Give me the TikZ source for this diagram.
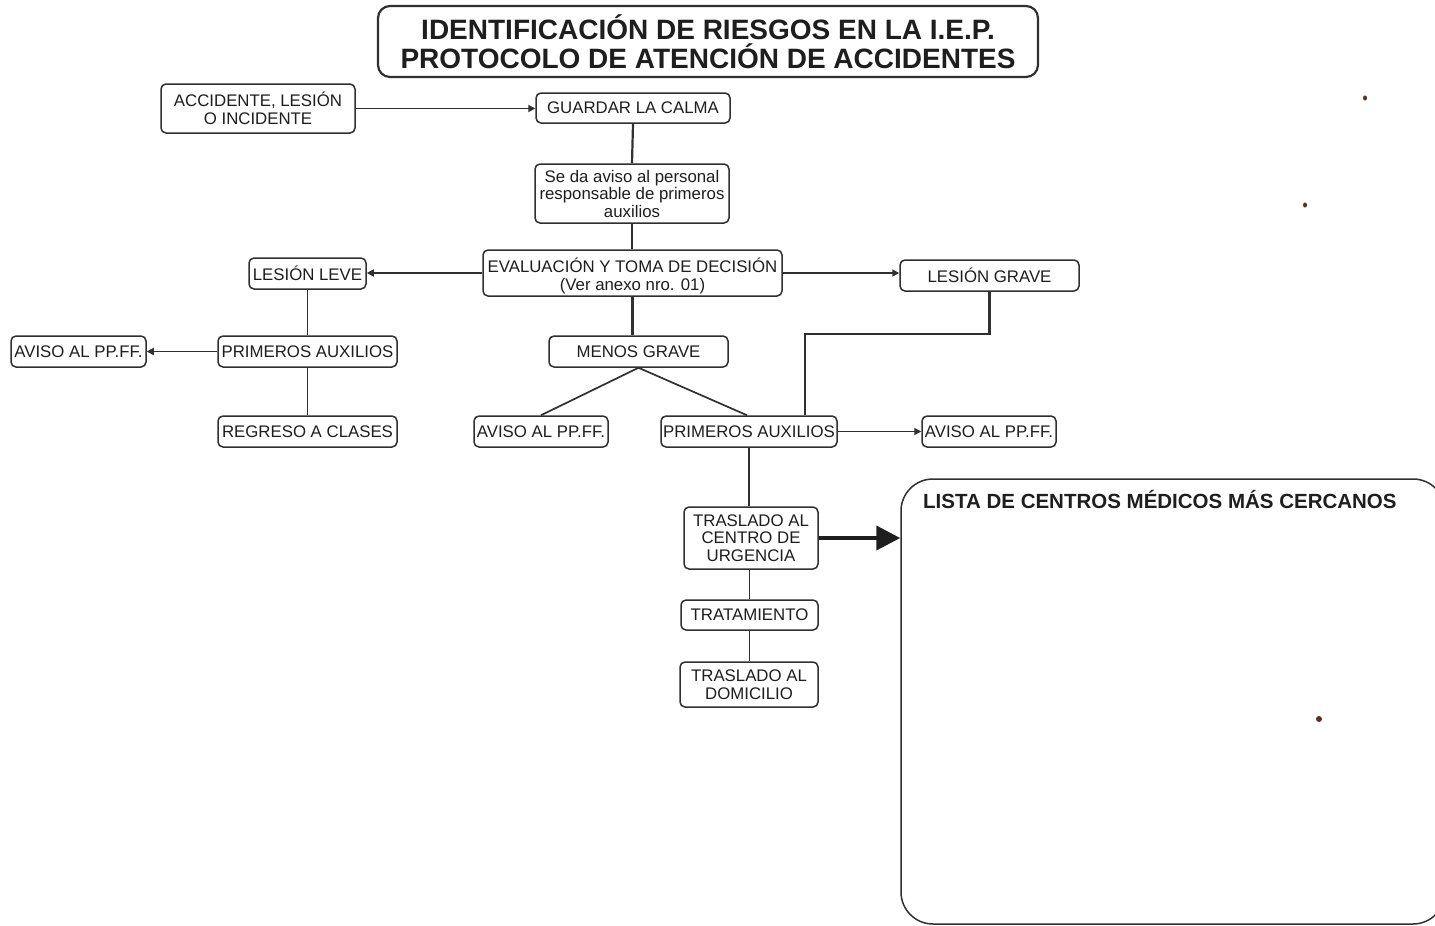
\documentclass[tikz,border=0pt]{standalone}
\usepackage{fontspec}
\setmainfont{Liberation Sans}
\usetikzlibrary{arrows.meta}
\definecolor{linec}{HTML}{303030}
\definecolor{txt}{HTML}{1E1E1E}
\definecolor{dotc}{HTML}{5A3222}
\begin{document}
\begin{tikzpicture}[x=1pt,y=-1pt,
  box/.style={draw=linec, line width=1.5pt, rounded corners=5pt, inner sep=0pt, align=center, text=txt, font=\fontsize{16.8}{17.5}\selectfont},
  conn/.style={draw=linec, line width=1.7pt},
  arr/.style={conn, -{Triangle[length=7pt,width=7pt]}},
  ]
\path[use as bounding box] (0,0) rectangle (1435,926);
\clip (0,0) rectangle (1435,926);
\fill[white] (0,0) rectangle (1435,926);

% title
\node[box, line width=2.2pt, rounded corners=12pt, minimum width=660pt, minimum height=71pt, font=\bfseries\fontsize{28}{29}\selectfont] (title) at (708,41.5) {IDENTIFICACIÓN DE RIESGOS EN LA I.E.P.\\PROTOCOLO DE ATENCIÓN DE ACCIDENTES};

\node[box, minimum width=194pt, minimum height=49pt] (acc) at (258,108.5) {ACCIDENTE, LESIÓN\\O INCIDENTE};
\node[box, minimum width=194pt, minimum height=30pt] (guard) at (633,108) {GUARDAR LA CALMA};
\node[box, minimum width=194pt, minimum height=59pt] (aviso) at (632,193.5) {Se da aviso al personal\\responsable de primeros\\auxilios};
\node[box, minimum width=299pt, minimum height=46pt, font=\fontsize{16.8}{18}\selectfont] (eval) at (632.5,273) {\rule{0pt}{20pt}EVALUACIÓN Y TOMA DE DECISIÓN\\(Ver anexo nro. 01)};
\node[box, minimum width=117pt, minimum height=31pt] (leve) at (307.5,273.5) {LESIÓN LEVE};
\node[box, minimum width=179pt, minimum height=31pt] (grave) at (989.5,275.5) {LESIÓN GRAVE};
\node[box, minimum width=179pt, minimum height=31pt] (pa1) at (307.5,351.5) {PRIMEROS AUXILIOS};
\node[box, minimum width=135pt, minimum height=31pt] (av1) at (78.5,351.5) {AVISO AL PP.FF.};
\node[box, minimum width=179pt, minimum height=31pt] (reg) at (307.5,431.5) {REGRESO A CLASES};
\node[box, minimum width=179pt, minimum height=31pt] (menos) at (638.5,351.5) {MENOS GRAVE};
\node[box, minimum width=134pt, minimum height=31pt] (av2) at (541,431.5) {AVISO AL PP.FF.};
\node[box, minimum width=176pt, minimum height=31pt] (pa2) at (749,431.5) {PRIMEROS AUXILIOS};
\node[box, minimum width=134pt, minimum height=31pt] (av3) at (989,431.5) {AVISO AL PP.FF.};
\node[box, minimum width=134pt, minimum height=62pt] (tras) at (751,538) {TRASLADO AL\\CENTRO DE\\URGENCIA};
\node[box, minimum width=137pt, minimum height=30pt] (trat) at (749.5,615) {TRATAMIENTO};
\node[box, minimum width=138pt, minimum height=45pt] (dom) at (749,684.5) {TRASLADO AL\\DOMICILIO};

\node[box, rounded corners=32pt, minimum width=544pt, minimum height=445pt] (lista) at (1173,701.5) {};
\node[anchor=west, inner sep=0pt, text=txt, font=\bfseries\fontsize{20.5}{22}\selectfont] (listat) at (923,500) {LISTA DE CENTROS MÉDICOS MÁS CERCANOS};

% connectors
\draw[arr] (acc.east) -- (acc.east -| guard.west);
\draw[conn, line width=2.2pt] (guard.south) -- (aviso.north);
\draw[conn, line width=2.2pt] (aviso.south) -- (aviso.south |- eval.north);
\draw[arr] (eval.west) -- (eval.west -| leve.east);
\draw[arr] (eval.east) -- (eval.east -| grave.west);
\draw[conn] (leve.south) -- (pa1.north);
\draw[conn] (pa1.south) -- (reg.north);
\draw[arr] (pa1.west) -- (av1.east);
\draw[conn, line width=2.2pt] (eval.south) -- (eval.south |- menos.north);
\draw[conn] (menos.south) -- (av2.north);
\draw[conn] (menos.south) -- ([xshift=-2pt]pa2.north);
\coordinate (gj) at (805,334);
\draw[draw=linec, line width=2.8pt] (grave.south) |- (gj) -- (gj |- pa2.north);
\draw[arr] (pa2.east) -- (av3.west);
\draw[conn] (pa2.south) -- (pa2.south |- tras.north);
\draw[conn] (trat.north |- tras.south) -- (trat.north);
\draw[conn] (trat.south) -- (trat.south |- dom.north);
\draw[draw=txt, line width=4pt, -{Triangle[length=24pt,width=24pt]}] (tras.east) -- (tras.east -| lista.west);

% stray dots
\fill[dotc] (1365,98) ellipse (2pt and 2.6pt);
\fill[dotc] (1305,205) ellipse (2pt and 2.6pt);
\fill[dotc] (1319,719) circle (3pt);
\end{tikzpicture}
\end{document}
